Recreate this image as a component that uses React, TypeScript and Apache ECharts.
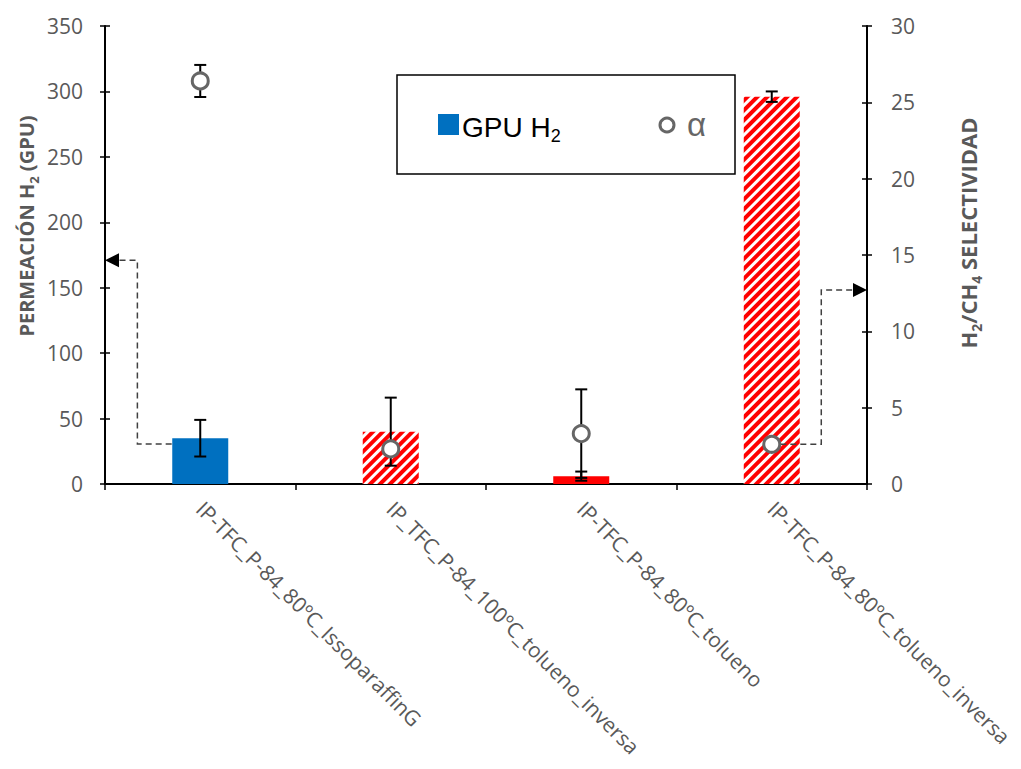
import React, { useEffect, useRef } from "react";
import * as echarts from "echarts";

const categories = [
  "IP-TFC_P-84_80ºC_IssoparaffinG",
  "IP_TFC_P-84_100ºC_tolueno_inversa",
  "IP-TFC_P-84_80ºC_tolueno",
  "IP-TFC_P-84_80ºC_tolueno_inversa",
];
const gpuH2 = [35, 40, 6, 296];
const gpuH2Err = [14, 26, 3.5, 4];
const alpha = [26.4, 2.3, 3.3, 2.6];
const alphaErr = [1.05, 0, 2.9, 0];
const barFill = ["blue", "hatch", "red", "hatch"];

// annotation arrows (position in category units, axis value)
const permArrowX = [-0.15, -0.33, -0.33, -0.5];
const permArrowY = [30.5, 30.5, 171, 171];
const selArrowX = [3.045, 3.26, 3.26, 3.5];
const selArrowY = [2.6, 2.6, 12.7, 12.7];

const FONT = "'Open Sans', sans-serif";
const GRAY = "#595959";

const hatch = {
  color: "#ffffff",
  decal: {
    symbol: "rect",
    symbolSize: 1,
    symbolKeepAspect: false,
    color: "#FF0000",
    dashArrayX: [1, 0],
    dashArrayY: [3.4, 2.8],
    rotation: -Math.PI / 4,
  },
};
const fillStyle: Record<string, any> = {
  blue: { color: "#0070C0" },
  red: { color: "#FF0000" },
  hatch,
};

function errorRender(values: number[], errs: number[]) {
  return (params: any, api: any) => {
    const i = params.dataIndex;
    const e = errs[i];
    if (!e) return { type: "group", children: [] };
    const hi = api.coord([i, values[i] + e]);
    const lo = api.coord([i, values[i] - e]);
    const x = hi[0];
    const st = { stroke: "#000", lineWidth: 2 };
    return {
      type: "group",
      children: [
        { type: "line", shape: { x1: x, y1: hi[1], x2: x, y2: lo[1] }, style: st },
        { type: "line", shape: { x1: x - 6, y1: hi[1], x2: x + 6, y2: hi[1] }, style: st },
        { type: "line", shape: { x1: x - 6, y1: lo[1], x2: x + 6, y2: lo[1] }, style: st },
      ],
    };
  };
}

function arrowRender(xs: number[], ys: number[], dir: number) {
  return (_params: any, api: any) => {
    const bw = api.size([1, 0])[0];
    const pts = xs.map((x, k) => {
      const p = api.coord([0, ys[k]]);
      return [p[0] + x * bw, p[1]];
    });
    const tip = pts[pts.length - 1];
    const L = 14;
    const H = 7;
    const lineEnd = [tip[0] - dir * L, tip[1]];
    const linePts = pts.slice(0, pts.length - 1).concat([lineEnd]);
    return {
      type: "group",
      children: [
        {
          type: "polyline",
          shape: { points: linePts },
          style: { stroke: "#404040", lineWidth: 1.5, lineDash: [6, 4], fill: null },
        },
        {
          type: "polygon",
          shape: {
            points: [
              [tip[0], tip[1]],
              [tip[0] - dir * L, tip[1] - H],
              [tip[0] - dir * L, tip[1] + H],
            ],
          },
          style: { fill: "#000" },
        },
      ],
    };
  };
}

const subRich = (size: number) => ({
  b: { fontFamily: FONT, fontSize: size, fontWeight: "bold", fill: GRAY, lineHeight: size + 8 },
  s: { fontFamily: FONT, fontSize: Math.round(size * 0.65), fontWeight: "bold", fill: GRAY, lineHeight: Math.round(size * 0.8), verticalAlign: "bottom" },
});

export default function App() {
  const ref = useRef<HTMLDivElement>(null);
  useEffect(() => {
    document.body.style.margin = "0";
    if (!ref.current) return;
    const chart = echarts.init(ref.current, null, { renderer: "svg" });
    const axisLabel = { fontFamily: FONT, fontSize: 21, color: GRAY };
    const option: any = {
      animation: false,
      backgroundColor: "#ffffff",
      grid: { left: 105, right: 154, top: 26, bottom: 285, containLabel: false, outerBoundsMode: "none" },
      xAxis: [
        {
          type: "category",
          data: categories,
          axisLine: { lineStyle: { color: "#000", width: 2 } },
          axisTick: { show: true, length: 6, lineStyle: { color: "#000", width: 1.5 } },
          axisLabel: { ...axisLabel, fontSize: 21, rotate: -45, margin: 21, interval: 0 },
          splitLine: { show: false },
        },
      ],
      yAxis: [
        {
          type: "value",
          min: 0,
          max: 350,
          interval: 50,
          position: "left",
          axisLine: { show: true, lineStyle: { color: "#000", width: 2 } },
          axisTick: { show: true, length: 5, lineStyle: { color: "#000", width: 1.5 } },
          axisLabel: { ...axisLabel, margin: 22 },
          splitLine: { show: false },
        },
        {
          type: "value",
          min: 0,
          max: 30,
          interval: 5,
          position: "right",
          axisLine: { show: true, lineStyle: { color: "#000", width: 2 } },
          axisTick: { show: true, length: 5, lineStyle: { color: "#000", width: 1.5 } },
          axisLabel: { ...axisLabel, margin: 24 },
          splitLine: { show: false },
        },
        {
          type: "value",
          min: 0,
          max: 350,
          interval: 50,
          position: "left",
          axisLine: { show: false },
          axisTick: { show: true, inside: true, length: 5, lineStyle: { color: "#000", width: 1.5 } },
          axisLabel: { show: false },
          splitLine: { show: false },
        },
        {
          type: "value",
          min: 0,
          max: 30,
          interval: 5,
          position: "right",
          axisLine: { show: false },
          axisTick: { show: true, inside: true, length: 5, lineStyle: { color: "#000", width: 1.5 } },
          axisLabel: { show: false },
          splitLine: { show: false },
        },
      ],
      series: [
        {
          name: "GPU H2",
          type: "bar",
          yAxisIndex: 0,
          barWidth: 56,
          data: gpuH2.map((v, i) => ({ value: v, itemStyle: fillStyle[barFill[i]] })),
          z: 2,
        },
        {
          type: "custom",
          yAxisIndex: 0,
          data: gpuH2.map((v, i) => [i, v]),
          renderItem: errorRender(gpuH2, gpuH2Err),
          z: 3,
          silent: true,
        },
        {
          type: "custom",
          yAxisIndex: 1,
          data: alpha.map((v, i) => [i, v]),
          renderItem: errorRender(alpha, alphaErr),
          z: 3,
          silent: true,
        },
        {
          name: "α",
          type: "scatter",
          yAxisIndex: 1,
          symbol: "circle",
          symbolSize: 16,
          data: alpha.map((v, i) => [i, v]),
          itemStyle: { color: "#ffffff", borderColor: "#666666", borderWidth: 3, opacity: 1 },
          z: 5,
        },
        {
          type: "custom",
          yAxisIndex: 0,
          data: [[0, 0]],
          renderItem: arrowRender(permArrowX, permArrowY, -1),
          z: 4,
          silent: true,
          clip: false,
        },
        {
          type: "custom",
          yAxisIndex: 1,
          data: [[3, 0]],
          renderItem: arrowRender(selArrowX, selArrowY, 1),
          z: 4,
          silent: true,
          clip: false,
        },
      ],
      graphic: [
        {
          type: "text",
          x: 26,
          y: 226,
          rotation: Math.PI / 2,
          style: {
            text: "{b|PERMEACIÓN H}{s|2}{b| (GPU)}",
            rich: subRich(20),
            align: "center",
            verticalAlign: "middle",
          },
        },
        {
          type: "text",
          x: 968,
          y: 233,
          rotation: Math.PI / 2,
          style: {
            text: "{b|H}{s|2}{b|/CH}{s|4}{b| SELECTIVIDAD}",
            rich: subRich(22),
            align: "center",
            verticalAlign: "middle",
          },
        },
        {
          type: "group",
          z: 10,
          children: [
            {
              type: "rect",
              shape: { x: 397, y: 75, width: 338, height: 99 },
              style: { fill: "#ffffff", stroke: "#000", lineWidth: 1.5 },
            },
            {
              type: "rect",
              shape: { x: 438, y: 114, width: 21, height: 21 },
              style: { fill: "#0070C0" },
            },
            {
              type: "text",
              x: 462,
              y: 127,
              style: {
                text: "{m|GPU H}{s|2}",
                verticalAlign: "middle",
                rich: {
                  m: { fontFamily: "'Liberation Sans', Arial", fontSize: 28, fill: "#000", lineHeight: 36 },
                  s: { fontFamily: "'Liberation Sans', Arial", fontSize: 18, fill: "#000", lineHeight: 21, verticalAlign: "bottom" },
                },
              },
            },
            {
              type: "circle",
              shape: { cx: 667, cy: 125, r: 7 },
              style: { fill: "#fff", stroke: "#666666", lineWidth: 3 },
            },
            {
              type: "text",
              x: 687,
              y: 124,
              style: {
                text: "α",
                fontFamily: "'Liberation Sans', Arial",
                fontSize: 33,
                fill: "#666666",
                verticalAlign: "middle",
              },
            },
          ],
        },
      ],
    };
    chart.setOption(option);
    return () => chart.dispose();
  }, []);
  return <div ref={ref} style={{ width: 1021, height: 769 }} />;
}
